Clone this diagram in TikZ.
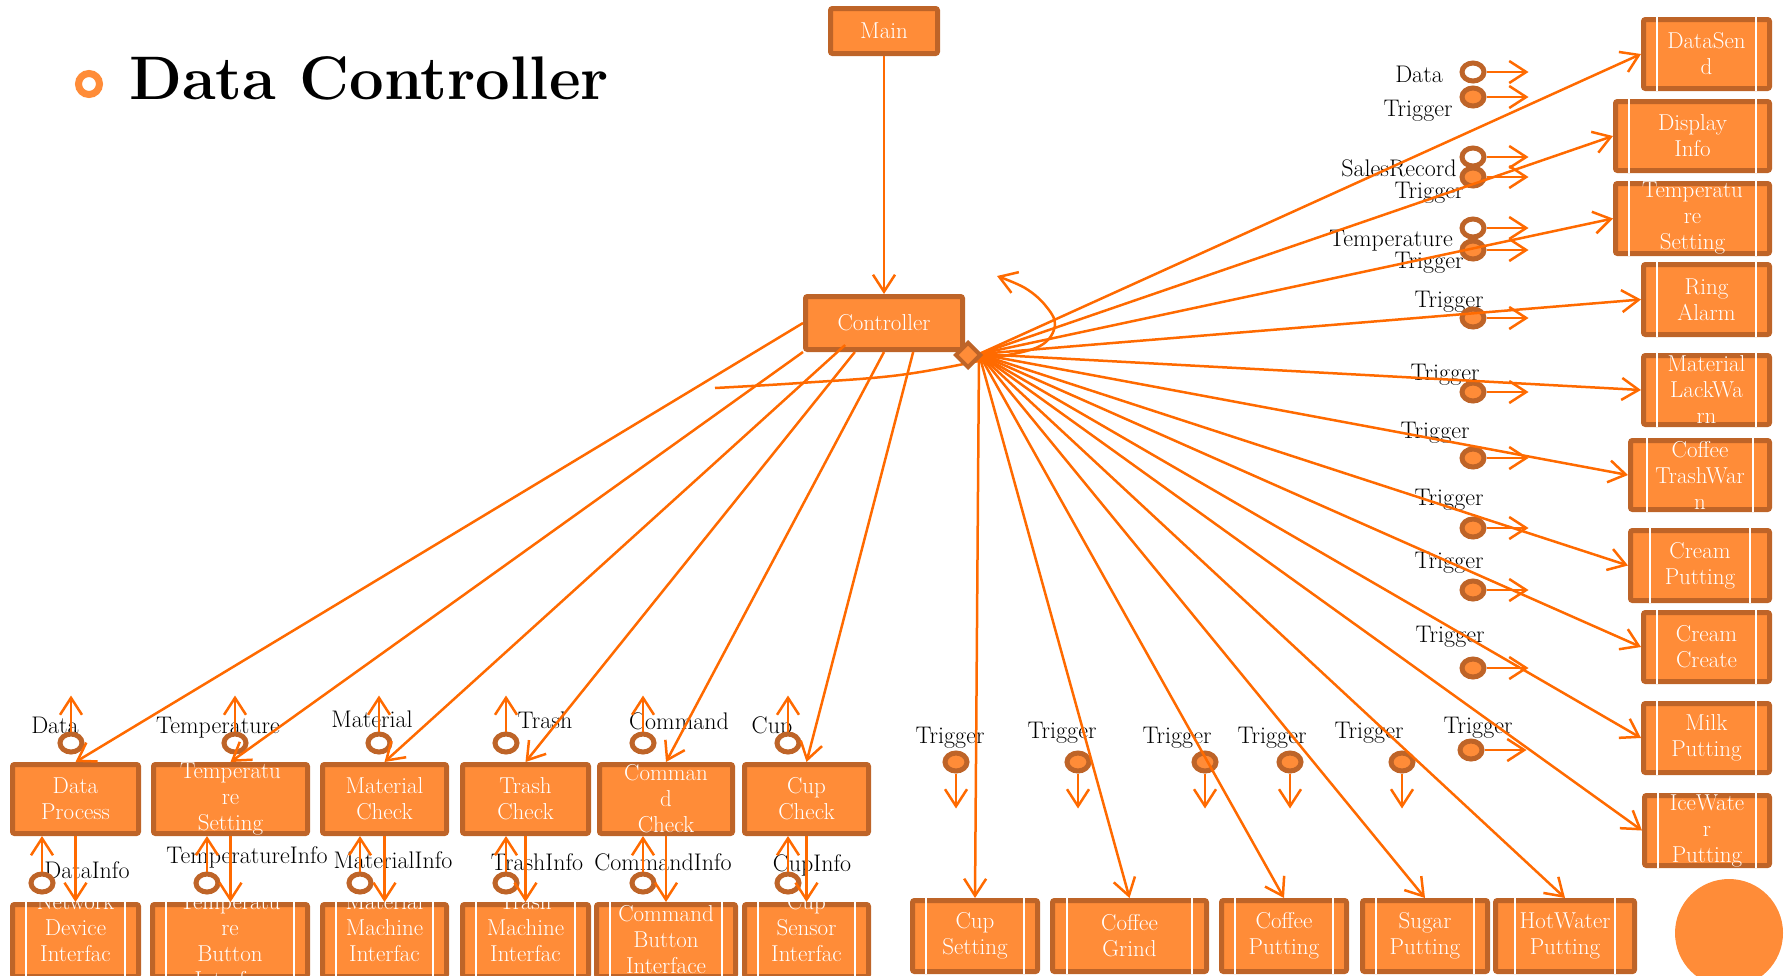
\documentclass[tikz,border=0pt]{standalone}
\usepackage{fontspec}
\usetikzlibrary{arrows.meta,shapes.geometric,calc}
\definecolor{boxfill}{RGB}{255,140,56}
\definecolor{bordcol}{RGB}{190,100,40}
\definecolor{conncol}{RGB}{255,106,0}
\newcommand{\lblsize}{\fontsize{24}{26}\selectfont}
\newcommand{\boxsize}{\fontsize{23}{26}\selectfont}
% #1 name, #2 centre, #3 width, #4 height, #5 text centre, #6 text
\newcommand{\mkbox}[6]{%
  \node[box, minimum width=#3, minimum height=#4] (#1) at #2 {};
  \node[btxt] (#1T) at #5 {#6};}
\begin{document}
\begin{tikzpicture}[x=1pt,y=-1pt,
  box/.style={draw=bordcol, fill=boxfill, line width=5pt, rounded corners=2pt, inner sep=0pt},
  btxt/.style={text=white, font=\boxsize, align=center, inner sep=0pt},
  conn/.style={draw=conncol, line width=2.5pt, -{Straight Barb[length=17pt,width=22pt]}},
  ring/.style={ellipse, draw=bordcol, fill=white, line width=5pt, minimum width=22pt, minimum height=18pt, inner sep=0pt},
  trig/.style={ring, fill=boxfill},
  lbl/.style={font=\lblsize, text=black, inner sep=0pt, anchor=base},
]
\useasboundingbox (0,0) rectangle (1785,975);

% title
\draw[boxfill, line width=7pt] (89,84) circle (10.5pt);
\node[anchor=base west, inner sep=0pt, font=\fontsize{61.5}{70}\selectfont\bfseries] (title) at (129,99) {Data Controller};

% labels
\node[lbl] (l1) at (55,733) {Data};
\node[lbl] (l2) at (218,733) {Temperature};
\node[lbl] (l3) at (372,727) {Material};
\node[lbl] (l4) at (545,728) {Trash};
\node[lbl] (l5) at (679,729) {Command};
\node[lbl] (l6) at (772,733) {Cup};
\node[lbl] (i1) at (87,878) {DataInfo};
\node[lbl] (i2) at (247,863) {TemperatureInfo};
\node[lbl] (i3) at (393,868) {MaterialInfo};
\node[lbl] (i4) at (537,870) {TrashInfo};
\node[lbl] (i5) at (663,870) {CommandInfo};
\node[lbl] (i6) at (812,871) {CupInfo};
\node[lbl] (q1) at (1419,82) {Data};
\node[lbl] (q2) at (1418,116) {Trigger};
\node[lbl] (q3) at (1399,176) {SalesRecord};
\node[lbl] (q4) at (1429,198) {Trigger};
\node[lbl] (q5) at (1391,246) {Temperature};
\node[lbl] (q6) at (1429,268) {Trigger};
\node[lbl] (q7) at (1449,307) {Trigger};
\node[lbl] (q8) at (1445,380) {Trigger};
\node[lbl] (q9) at (1435,438) {Trigger};
\node[lbl] (q10) at (1449,505) {Trigger};
\node[lbl] (q11) at (1449,568) {Trigger};
\node[lbl] (q12) at (1450,642) {Trigger};
\node[lbl] (q13) at (1478,733) {Trigger};
\node[lbl] (b1) at (950,743) {Trigger};
\node[lbl] (b2) at (1062,738) {Trigger};
\node[lbl] (b3) at (1177,743) {Trigger};
\node[lbl] (b4) at (1272,743) {Trigger};
\node[lbl] (b5) at (1369,738) {Trigger};

% main boxes
\mkbox{main}{(884,31)}{107pt}{45pt}{(main)}{Main}
\mkbox{ctrl}{(884,323)}{157pt}{53pt}{(ctrl)}{Controller}

% right column
\mkbox{ds}{(1706.5,54)}{126pt}{69pt}{(ds)}{DataSen\\d}
\mkbox{di}{(1692.5,136)}{154pt}{69pt}{(di)}{Display\\Info}
\mkbox{tsr}{(1692.5,218.5)}{154pt}{70pt}{(tsr)}{Temperatu\\re\\Setting}
\mkbox{ra}{(1706.5,299.5)}{126pt}{70pt}{(ra)}{Ring\\Alarm}
\mkbox{mlw}{(1706.5,390)}{126pt}{69pt}{(mlw)}{Material\\LackWa\\rn}
\mkbox{ctw}{(1700,475)}{139pt}{69pt}{(ctw)}{Coffee\\TrashWar\\n}
\mkbox{cp}{(1700,565.5)}{139pt}{70pt}{(cp)}{Cream\\Putting}
\mkbox{cc}{(1706.5,647)}{126pt}{69pt}{(cc)}{Cream\\Create}
\mkbox{mp}{(1706.5,738)}{126pt}{69pt}{(mp)}{Milk\\Putting}
\mkbox{iw}{(1707,830.5)}{125pt}{70pt}{(iw)}{IceWate\\r\\Putting}

% bottom right row
\mkbox{cs}{(975,936)}{125pt}{71pt}{(cs)}{Cup\\Setting}
\mkbox{cg}{(1129.5,936)}{154pt}{71pt}{(cg)}{Coffee\\Grind}
\mkbox{cpu}{(1284,936)}{125pt}{71pt}{(cpu)}{Coffee\\Putting}
\mkbox{sp}{(1425,936)}{125pt}{71pt}{(sp)}{Sugar\\Putting}
\mkbox{hw}{(1565,936)}{139pt}{71pt}{(hw)}{HotWater\\Putting}

% middle left row
\mkbox{dp}{(75.5,799)}{126pt}{69pt}{(dp)}{Data\\Process}
\mkbox{tse}{(230.5,799)}{154pt}{69pt}{(tse)}{Temperatu\\re\\Setting}
\mkbox{mc}{(384.5,799)}{124pt}{69pt}{(mc)}{Material\\Check}
\mkbox{tc}{(525.5,799)}{126pt}{69pt}{(tc)}{Trash\\Check}
\mkbox{cmc}{(666,799)}{133pt}{69pt}{(cmc)}{Comman\\d\\Check}
\mkbox{cuc}{(806.5,799)}{124pt}{69pt}{(cuc)}{Cup\\Check}

% bottom left row
\mkbox{ndi}{(75.5,940.5)}{126pt}{72pt}{(75.5,940.5)}{Network\\Device\\Interfac\\e}
\mkbox{tbi}{(230,940.5)}{155pt}{72pt}{(230,954)}{Temperatu\\re\\Button\\Interfac\\e}
\mkbox{mmi}{(384.5,940.5)}{124pt}{72pt}{(384.5,940.5)}{Material\\Machine\\Interfac\\e}
\mkbox{tmi}{(525.5,940.5)}{126pt}{72pt}{(525.5,940.5)}{Trash\\Machine\\Interfac\\e}
\mkbox{cbi}{(666,940.5)}{139pt}{72pt}{(666,940)}{Command\\Button\\Interface}
\mkbox{csi}{(806.5,940.5)}{124pt}{72pt}{(806.5,940.5)}{Cup\\Sensor\\Interfac\\e}

% inner white lines of subsystem boxes
\foreach \n/\o in {ds/16pt,di/16pt,tsr/16pt,ra/16pt,mlw/16pt,ctw/19pt,cp/22pt,cc/16pt,mp/16pt,iw/16pt,cs/16pt,cg/17pt,cpu/16pt,sp/16pt,hw/22pt,ndi/16pt,tbi/16pt,mmi/16pt,tmi/16pt,cbi/16pt,csi/16pt}
  \draw[white, line width=2pt] ([xshift=\o]\n.north west) -- ([xshift=\o]\n.south west)
    ([xshift=-\o]\n.north east) -- ([xshift=-\o]\n.south east);

% rings (required interfaces) and triggers
\node[ring] (tr1) at (71,743) {};
\node[ring] (tr2) at (235,743) {};
\node[ring] (tr3) at (379,743) {};
\node[ring] (tr4) at (506,743) {};
\node[ring] (tr5) at (643,743) {};
\node[ring] (tr6) at (788,743) {};
\node[ring] (br1) at (42,883) {};
\node[ring] (br2) at (207,883) {};
\node[ring] (br3) at (360,883) {};
\node[ring] (br4) at (506,883) {};
\node[ring] (br5) at (643,883) {};
\node[ring] (br6) at (788,883) {};
\node[ring] (rr1) at (1473,72) {};
\node[ring] (rr2) at (1473,157) {};
\node[ring] (rr3) at (1473,228) {};
\node[trig] (rt1) at (1473,97) {};
\node[trig] (rt2) at (1473,177) {};
\node[trig] (rt3) at (1473,250) {};
\node[trig] (rt4) at (1473,318) {};
\node[trig] (rt5) at (1473,392) {};
\node[trig] (rt6) at (1473,458) {};
\node[trig] (rt7) at (1473,528) {};
\node[trig] (rt8) at (1473,590) {};
\node[trig] (rt9) at (1473,668) {};
\node[trig] (rt10) at (1471,750) {};
\node[trig] (bt1) at (956,762) {};
\node[trig] (bt2) at (1078,762) {};
\node[trig] (bt3) at (1205,762) {};
\node[trig] (bt4) at (1290,762) {};
\node[trig] (bt5) at (1402,762) {};

% interface arrows
\foreach \r in {tr1,tr2,tr3,tr4,tr5,tr6}
  \draw[conn] (\r.north) -- ++(0,-36);
\foreach \r/\b in {br1/dp,br2/tse,br3/mc,br4/tc,br5/cmc,br6/cuc}
  \draw[conn] (\r.north) -- (\r.north |- \b.south);
\foreach \a/\b in {dp/ndi,tse/tbi,mc/mmi,tc/tmi,cmc/cbi,cuc/csi}
  \draw[conn] (\a.south) -- (\a.south |- \b.north);
\foreach \r in {rr1,rr2,rr3,rt1,rt2,rt3,rt4,rt5,rt6,rt7,rt8,rt9,rt10}
  \draw[conn] (\r.east) -- ++(42,0);
\foreach \r in {bt1,bt2,bt3,bt4,bt5}
  \draw[conn] (\r.south) -- ++(0,35);

% main to controller
\draw[conn] (main.south) -- (ctrl.north);

% controller to left row
\draw[conn] (ctrl.west) -- (dp.north);
\draw[conn] (ctrl.south west) -- (tse.north);
\draw[conn] ($(ctrl.south west)!0.26!(ctrl.south east)+(0,-7)$) -- (mc.north);
\draw[conn] ($(ctrl.south west)!0.32!(ctrl.south east)$) -- (tc.north);
\draw[conn] (ctrl.south) -- (cmc.north);
\draw[conn] ($(ctrl.south west)!0.68!(ctrl.south east)$) -- (cuc.north);

% fan from diamond
\coordinate (fan) at (979,354);
\foreach \t in {ds.west,di.west,tsr.west,ra.west,mlw.west,ctw.west,cp.west,cc.west,mp.west,iw.west,cs.north,cg.north,cpu.north,sp.north,hw.north}
  \draw[conn] (fan) -- (\t);

% self loop
\coordinate (loopA) at (715,388);
\coordinate (loopB) at (997,276);
\draw[conn] plot[smooth, tension=0.6] coordinates {(loopA) (800,383) (900,375) (993,358) (1040,346) (1055,325) (1045,305) (1025,288) (loopB)};

% diamond
\node[diamond, draw=bordcol, fill=boxfill, line width=4pt, minimum width=26pt, minimum height=26pt, inner sep=0pt] (dia) at (968,355) {};

% decorative circle
\fill[boxfill] (1729,933) circle (54pt);
\end{tikzpicture}
\end{document}
